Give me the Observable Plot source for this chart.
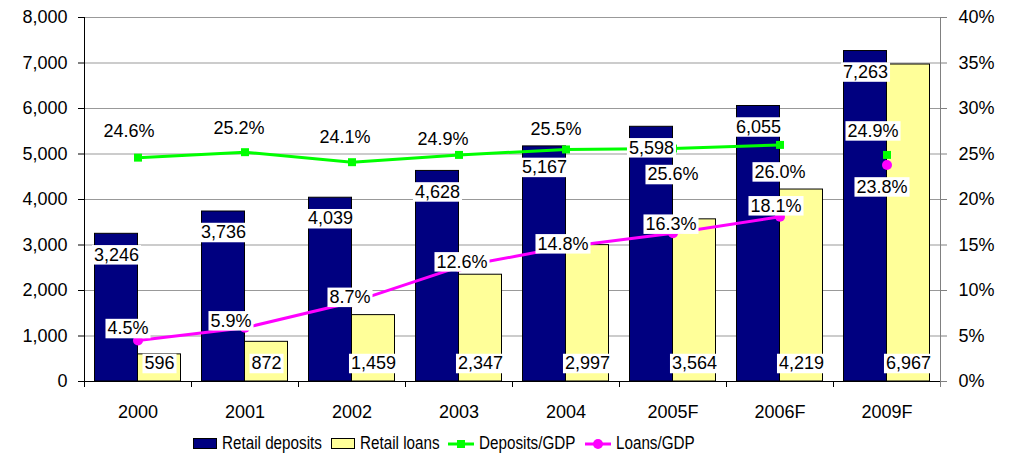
<!DOCTYPE html>
<html>
<head>
<meta charset="utf-8">
<script src="https://cdn.jsdelivr.net/npm/d3@7"></script>
<script src="https://cdn.jsdelivr.net/npm/@observablehq/plot@0.6"></script>
<style>
  html, body { margin: 0; padding: 0; background: #fff; }
  #chart { width: 1010px; }
  .legend { position: relative; height: 31px; font-family: "Liberation Sans", Arial, sans-serif; font-size: 17.5px; color: #000; }
  .legend .items { position: absolute; left: 193px; top: 0; height: 31px; display: flex; align-items: center; }
  .legend .item { display: flex; align-items: center; margin-right: 9px; }
  .legend .sw { width: 22px; height: 9px; border: 1px solid #000; margin-right: 5px; }
  .legend svg { margin-right: 5px; }
  .legend .txt { display: inline-block; transform: scaleX(0.87); transform-origin: left center; white-space: nowrap; }
</style>
</head>
<body>
<div id="chart"></div>
<script>
const years = ["2000", "2001", "2002", "2003", "2004", "2005F", "2006F", "2009F"];
const retailDeposits = [3246, 3736, 4039, 4628, 5167, 5598, 6055, 7263];
const retailLoans = [596, 872, 1459, 2347, 2997, 3564, 4219, 6967];
const depositsGdp = [24.6, 25.2, 24.1, 24.9, 25.5, 25.6, 26.0, 24.9];
const loansGdp = [4.5, 5.9, 8.7, 12.6, 14.8, 16.3, 18.1, 23.8];
const leftTicks = [0, 1000, 2000, 3000, 4000, 5000, 6000, 7000, 8000];
const rightTicks = [0, 5, 10, 15, 20, 25, 30, 35, 40];
const seriesNames = ["Retail deposits", "Retail loans", "Deposits/GDP", "Loans/GDP"];
const lineBreakAfter = "2006F"; // the ratio lines are not joined to 2009F

// label offsets (layout only)
const depGdpLabelDx = [-9, -6, -7, -16, -10, 0, 0, -14];
const depGdpLabelDy = [-26, -24, -25, -16, -20, 26, 27, -24];
const loanGdpLabelDx = [-10, -14, -2, 3, -3, -2, -4, -5];
const loanGdpLabelDy = [-12, -7, -5, -5, -3, -9, -11, 22];

const pctToY = 8000 / 40;
const data = years.map((year, i) => ({
  year, dep: retailDeposits[i], loan: retailLoans[i],
  depGdp: depositsGdp[i], loanGdp: loansGdp[i]
}));
const lineData = data.slice(0, years.indexOf(lineBreakAfter) + 1);

const FONT = '"Liberation Sans", Arial, sans-serif';
const NAVY = "#000080", YEL = "#FFFF99", GREEN = "#00FF00", MAG = "#FF00FF";
const half = 21.5;

const marks = [
  Plot.gridY(leftTicks, {stroke: "#999", strokeOpacity: 1}),
  Plot.barY(data, {x: "year", y: "dep", fill: NAVY, stroke: "#000", strokeWidth: 1, dx: -half}),
  Plot.barY(data, {x: "year", y: "loan", fill: YEL, stroke: "#000", strokeWidth: 1, dx: half}),
  Plot.ruleY([0], {stroke: "#000"}),
  Plot.frame({anchor: "left", stroke: "#000"}),
  Plot.frame({anchor: "right", stroke: "#808080"}),
  Plot.axisY({ticks: leftTicks, tickFormat: d3.format(","), tickSize: 6, tickPadding: 11, fontSize: 18, stroke: "#000", label: null}),
  Plot.axisY({anchor: "right", ticks: rightTicks.map(p => p * pctToY), tickFormat: d => (d / pctToY) + "%", tickSize: 6, tickPadding: 12, fontSize: 18, stroke: "#808080", label: null}),
  Plot.axisX({tickSize: 0, tickPadding: 24, fontSize: 18, label: null}),
  Plot.axisX({tickSize: 6, tickFormat: () => "", dx: -53.5, stroke: "#000", label: null}),
  Plot.axisX({ticks: [years[years.length - 1]], tickSize: 6, tickFormat: () => "", dx: 53.5, stroke: "#808080", label: null}),
  Plot.lineY(lineData, {x: "year", y: d => d.depGdp * pctToY, stroke: GREEN, strokeWidth: 3}),
  Plot.lineY(lineData, {x: "year", y: d => d.loanGdp * pctToY, stroke: MAG, strokeWidth: 3}),
  Plot.dot(data, {x: "year", y: d => d.depGdp * pctToY, symbol: "square", r: 4.5, fill: GREEN}),
  Plot.dot(data, {x: "year", y: d => d.loanGdp * pctToY, symbol: "circle", r: 5, fill: MAG}),
  Plot.text(data, {x: "year", y: "dep", text: d => d3.format(",")(d.dep), dx: -half, dy: 21, fontSize: 18, fill: "#000", lineAnchor: "middle", className: "lbl"}),
  Plot.text(data, {x: "year", y: 0, text: d => d3.format(",")(d.loan), dx: half, dy: -18, fontSize: 18, fill: "#000", lineAnchor: "middle", className: "lbl"}),
  ...data.map((d, i) => Plot.text([d], {x: "year", y: d => d.depGdp * pctToY, text: d => d.depGdp.toFixed(1) + "%", dx: depGdpLabelDx[i], dy: depGdpLabelDy[i], fontSize: 18, fill: "#000", lineAnchor: "middle", className: "lbl"})),
  ...data.map((d, i) => Plot.text([d], {x: "year", y: d => d.loanGdp * pctToY, text: d => d.loanGdp.toFixed(1) + "%", dx: loanGdpLabelDx[i], dy: loanGdpLabelDy[i], fontSize: 18, fill: "#000", lineAnchor: "middle", className: "lbl"}))
];

const chart = Plot.plot({
  width: 1010,
  height: 428,
  marginLeft: 84,
  marginRight: 70,
  marginTop: 17,
  marginBottom: 47,
  style: {fontFamily: FONT, fontSize: "18px", color: "#000", background: "#fff"},
  x: {domain: years, paddingInner: 0.598, paddingOuter: 0.299, axis: null, label: null},
  y: {domain: [0, 8000], axis: null, label: null},
  marks
});
document.getElementById("chart").appendChild(chart);

// white boxes behind data labels
chart.querySelectorAll("g.lbl text").forEach(t => {
  const b = t.getBBox();
  const r = document.createElementNS("http://www.w3.org/2000/svg", "rect");
  r.setAttribute("x", b.x - 2);
  r.setAttribute("y", b.y + 0.5);
  r.setAttribute("width", b.width + 4);
  r.setAttribute("height", b.height - 0.5);
  r.setAttribute("fill", "#fff");
  const tr = t.getAttribute("transform");
  if (tr) r.setAttribute("transform", tr);
  t.parentNode.insertBefore(r, t);
});

// legend
const legend = document.createElement("div");
legend.className = "legend";
const items = document.createElement("div");
items.className = "items";
legend.appendChild(items);
const swatches = [
  `<span class="sw" style="background:${NAVY}"></span>`,
  `<span class="sw" style="background:${YEL}"></span>`,
  `<svg width="26" height="12"><line x1="0" y1="6" x2="26" y2="6" stroke="${GREEN}" stroke-width="3"/><rect x="9" y="2" width="8" height="8" fill="${GREEN}"/></svg>`,
  `<svg width="26" height="12"><line x1="0" y1="6" x2="26" y2="6" stroke="${MAG}" stroke-width="3"/><circle cx="13" cy="6" r="5" fill="${MAG}"/></svg>`
];
seriesNames.forEach((name, i) => {
  const it = document.createElement("span");
  it.className = "item";
  it.innerHTML = swatches[i] + `<span class="txt">${name}</span>`;
  items.appendChild(it);
});
document.getElementById("chart").appendChild(legend);
items.querySelectorAll(".txt").forEach(s => {
  const w = s.offsetWidth;
  s.style.marginRight = (-w * 0.13) + "px";
});
</script>
</body>
</html>
